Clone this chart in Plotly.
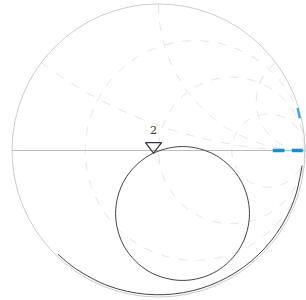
import numpy as np
import plotly.graph_objects as go

loop_re = [0.621, 0.605, 0.560, 0.487, 0.393, 0.282, 0.164, 0.046, -0.065, -0.159, -0.232, -0.277,
           -0.293, -0.277, -0.232, -0.159, -0.065, 0.046, 0.164, 0.282, 0.393, 0.487, 0.560, 0.605, 0.621]
loop_im = [-0.430, -0.312, -0.202, -0.107, -0.034, 0.011, 0.027, 0.011, -0.034, -0.107, -0.202, -0.312,
           -0.430, -0.548, -0.659, -0.753, -0.826, -0.871, -0.887, -0.871, -0.826, -0.753, -0.659, -0.548, -0.430]

arc_re = [0.980, 0.926, 0.807, 0.633, 0.416, 0.171, -0.086, -0.337, -0.565, -0.685]
arc_im = [-0.103, -0.337, -0.565, -0.755, -0.893, -0.970, -0.981, -0.926, -0.807, -0.709]

blue_re = [0.78, 0.86, 0.91, 0.985]
blue_im = [0.0, 0.0, 0.0, 0.0]
blue2_re = [0.965, 0.95]
blue2_im = [0.22, 0.29]

marker_re = [-0.034]
marker_im = [0.03]
marker_label = ["2"]

grid_vals = [1/3, 1, 3]


def to_z(gre, gim):
    g = np.array(gre) + 1j * np.array(gim)
    z = (1 + g) / (1 - g)
    return z.real, z.imag


fig = go.Figure()

zr, zi = to_z(loop_re, loop_im)
fig.add_trace(go.Scattersmith(real=zr, imag=zi, mode="lines",
                              line=dict(color="#444444", width=1, shape="spline")))
zr, zi = to_z(arc_re, arc_im)
fig.add_trace(go.Scattersmith(real=zr, imag=zi, mode="lines",
                              line=dict(color="#444444", width=1, shape="spline")))
zr, zi = to_z(blue_re, blue_im)
fig.add_trace(go.Scattersmith(real=zr[:2], imag=zi[:2], mode="lines",
                              line=dict(color="#1a8fcf", width=3.5)))
fig.add_trace(go.Scattersmith(real=zr[2:], imag=zi[2:], mode="lines",
                              line=dict(color="#1a8fcf", width=3.5)))
zr, zi = to_z(blue2_re, blue2_im)
fig.add_trace(go.Scattersmith(real=zr, imag=zi, mode="lines",
                              line=dict(color="#3aa6dc", width=2.5)))
zr, zi = to_z(marker_re, marker_im)
fig.add_trace(go.Scattersmith(real=zr, imag=zi, mode="markers+text", text=marker_label,
                              textposition="top center",
                              textfont=dict(family="DejaVu Serif", size=11, color="#333"),
                              marker=dict(symbol="triangle-down-open", size=14,
                                          color="#333", line=dict(width=1.2, color="#333"))))

fig.update_layout(
    width=306, height=300,
    margin=dict(l=12, r=1, t=4, b=3),
    paper_bgcolor="white",
    showlegend=False,
    smith=dict(
        bgcolor="white",
        domain=dict(x=[0, 1], y=[0, 1]),
        realaxis=dict(tickvals=grid_vals, showticklabels=False, ticks="",
                      showgrid=True, gridcolor="#e6e6e6", griddash="dash", gridwidth=1,
                      showline=True, linecolor="#b4bec6", linewidth=1, layer="below traces"),
        imaginaryaxis=dict(tickvals=grid_vals, showticklabels=False, ticks="",
                           showgrid=True, gridcolor="#e6e6e6", griddash="dash", gridwidth=1,
                           showline=True, linecolor="#cccccc", linewidth=1, layer="below traces"),
    ),
)

fig.write_html("out.html", config={"displayModeBar": False},
               post_script="document.body.style.margin='0';")
